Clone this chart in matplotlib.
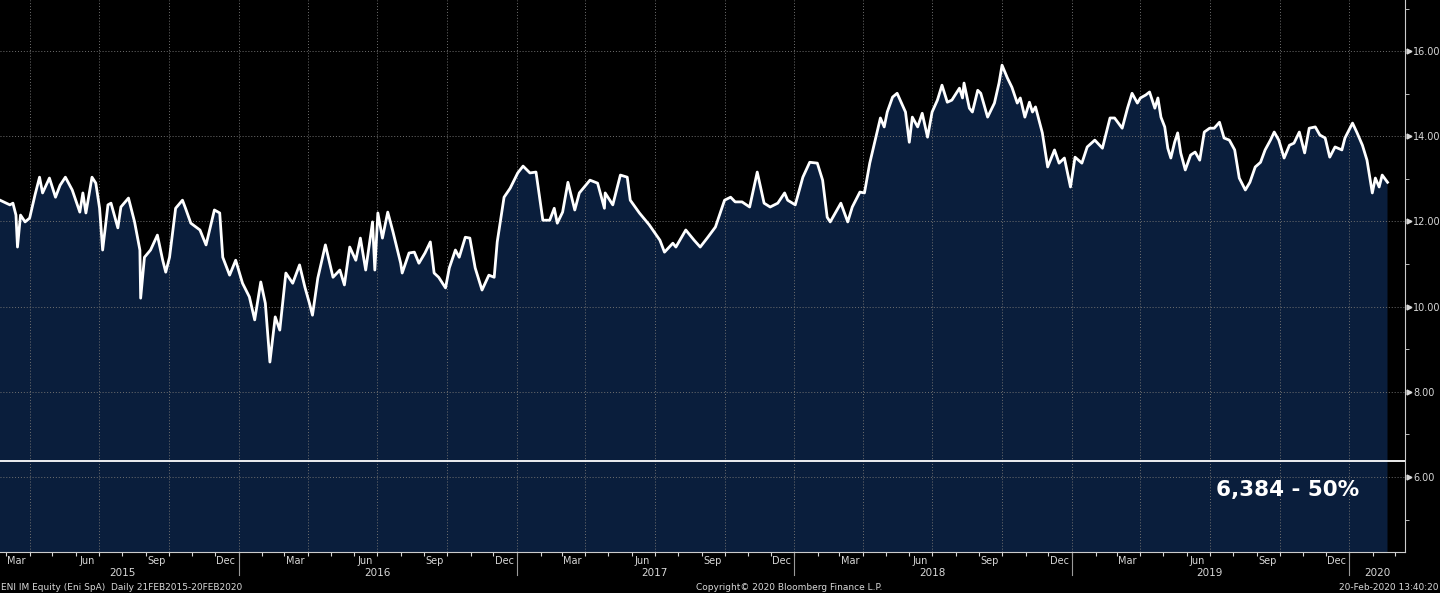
import numpy as np
import pandas as pd
import matplotlib
matplotlib.use("Agg")
import matplotlib.pyplot as plt
import matplotlib.dates as mdates
import matplotlib.transforms as mtrans

# ENI IM Equity, approximate daily close
DATES = [
    "2015-02-21", "2015-03-06", "2015-03-10", "2015-03-14", "2015-03-16", "2015-03-20", "2015-03-26",
    "2015-04-01", "2015-04-08", "2015-04-14", "2015-04-18", "2015-04-27", "2015-05-05", "2015-05-11",
    "2015-05-18", "2015-05-27", "2015-06-06", "2015-06-10", "2015-06-14", "2015-06-22", "2015-06-27",
    "2015-07-02", "2015-07-06", "2015-07-13", "2015-07-17", "2015-07-26", "2015-07-30", "2015-08-09",
    "2015-08-17", "2015-08-24", "2015-08-25", "2015-08-30", "2015-09-07", "2015-09-16", "2015-09-23",
    "2015-09-27", "2015-10-02", "2015-10-10", "2015-10-19", "2015-10-23", "2015-10-30", "2015-11-11",
    "2015-11-19", "2015-11-30", "2015-12-07", "2015-12-11", "2015-12-20", "2015-12-28",
    "2016-01-06", "2016-01-15", "2016-01-22", "2016-01-30", "2016-02-05", "2016-02-11", "2016-02-18",
    "2016-02-24", "2016-03-03", "2016-03-12", "2016-03-21", "2016-03-28", "2016-04-03", "2016-04-07",
    "2016-04-14", "2016-04-24", "2016-05-04", "2016-05-13", "2016-05-19", "2016-05-26", "2016-06-03",
    "2016-06-09", "2016-06-16", "2016-06-25", "2016-06-28", "2016-07-02", "2016-07-08", "2016-07-15",
    "2016-07-22", "2016-08-01", "2016-08-03", "2016-08-12", "2016-08-19", "2016-08-25", "2016-09-02",
    "2016-09-09", "2016-09-14", "2016-09-20", "2016-09-29", "2016-10-04", "2016-10-12", "2016-10-17",
    "2016-10-25", "2016-10-31", "2016-11-07", "2016-11-16", "2016-11-25", "2016-12-02", "2016-12-06",
    "2016-12-15", "2016-12-23",
    "2017-01-02", "2017-01-09", "2017-01-18", "2017-01-26", "2017-02-04", "2017-02-13", "2017-02-19",
    "2017-02-23", "2017-03-02", "2017-03-09", "2017-03-18", "2017-03-24", "2017-04-07", "2017-04-17",
    "2017-04-26", "2017-04-27", "2017-05-07", "2017-05-17", "2017-05-26", "2017-05-30", "2017-06-11",
    "2017-06-24", "2017-07-08", "2017-07-14", "2017-07-25", "2017-07-29", "2017-08-11", "2017-08-22",
    "2017-08-30", "2017-09-09", "2017-09-19", "2017-10-01", "2017-10-09", "2017-10-15", "2017-10-24",
    "2017-11-03", "2017-11-13", "2017-11-22", "2017-11-30", "2017-12-10", "2017-12-19", "2017-12-23",
    "2018-01-02", "2018-01-12", "2018-01-21", "2018-01-31", "2018-02-07", "2018-02-13", "2018-02-17",
    "2018-02-26", "2018-03-03", "2018-03-12", "2018-03-18", "2018-03-28", "2018-04-03", "2018-04-10",
    "2018-04-18", "2018-04-24", "2018-04-29", "2018-05-03", "2018-05-10", "2018-05-16", "2018-05-20",
    "2018-05-27", "2018-06-01", "2018-06-05", "2018-06-12", "2018-06-18", "2018-06-25", "2018-07-01",
    "2018-07-08", "2018-07-14", "2018-07-21", "2018-07-27", "2018-08-06", "2018-08-10", "2018-08-12",
    "2018-08-19", "2018-08-23", "2018-08-30", "2018-09-03", "2018-09-12", "2018-09-21", "2018-09-27",
    "2018-10-01", "2018-10-08", "2018-10-14", "2018-10-21", "2018-10-25", "2018-10-31", "2018-11-06",
    "2018-11-10", "2018-11-14", "2018-11-23", "2018-11-30", "2018-12-09", "2018-12-15", "2018-12-22",
    "2018-12-30",
    "2019-01-05", "2019-01-14", "2019-01-21", "2019-01-31", "2019-02-10", "2019-02-20", "2019-02-26",
    "2019-03-08", "2019-03-15", "2019-03-21", "2019-03-28", "2019-04-01", "2019-04-08", "2019-04-13",
    "2019-04-20", "2019-04-24", "2019-04-28", "2019-05-03", "2019-05-07", "2019-05-11", "2019-05-16",
    "2019-05-20", "2019-05-24", "2019-05-30", "2019-06-06", "2019-06-12", "2019-06-18", "2019-06-24",
    "2019-07-01", "2019-07-07", "2019-07-14", "2019-07-20", "2019-07-27", "2019-08-03", "2019-08-09",
    "2019-08-17", "2019-08-23", "2019-08-30", "2019-09-06", "2019-09-12", "2019-09-19", "2019-09-24",
    "2019-09-30", "2019-10-07", "2019-10-14", "2019-10-20", "2019-10-27", "2019-11-03", "2019-11-09",
    "2019-11-17", "2019-11-23", "2019-11-30", "2019-12-06", "2019-12-13", "2019-12-22", "2019-12-26",
    "2020-01-05", "2020-01-11", "2020-01-18", "2020-01-24", "2020-01-31", "2020-02-04", "2020-02-09",
    "2020-02-13", "2020-02-20",
]
PRICES = [
    12.50, 12.39, 12.43, 12.15, 11.40, 12.15, 11.99,
    12.08, 12.62, 13.04, 12.67, 13.02, 12.57, 12.85,
    13.04, 12.74, 12.22, 12.67, 12.20, 13.04, 12.90,
    12.31, 11.33, 12.39, 12.43, 11.85, 12.34, 12.55,
    11.99, 11.33, 10.20, 11.16, 11.33, 11.68, 11.09,
    10.81, 11.16, 12.31, 12.50, 12.31, 11.96, 11.80,
    11.45, 12.27, 12.20, 11.16, 10.74, 11.09,
    10.55, 10.23, 9.69, 10.58, 10.08, 8.70, 9.76,
    9.45, 10.79, 10.55, 10.98, 10.46, 10.08, 9.80,
    10.67, 11.45, 10.69, 10.86, 10.51, 11.40, 11.09,
    11.61, 10.86, 11.99, 10.86, 12.20, 11.61, 12.22,
    11.75, 11.02, 10.79, 11.26, 11.28, 11.02, 11.26,
    11.52, 10.79, 10.69, 10.44, 10.91, 11.33, 11.16,
    11.63, 11.61, 10.91, 10.39, 10.74, 10.69, 11.52,
    12.57, 12.78,
    13.14, 13.30, 13.14, 13.16, 12.03, 12.03, 12.31,
    11.96, 12.22, 12.92, 12.27, 12.67, 12.97, 12.90,
    12.31, 12.67, 12.39, 13.09, 13.04, 12.50, 12.20,
    11.92, 11.56, 11.28, 11.49, 11.40, 11.80, 11.56,
    11.40, 11.63, 11.87, 12.50, 12.57, 12.46, 12.46,
    12.34, 13.16, 12.43, 12.34, 12.43, 12.67, 12.50,
    12.39, 13.04, 13.39, 13.37, 12.97, 12.10, 11.99,
    12.27, 12.43, 11.99, 12.34, 12.69, 12.67, 13.37,
    13.98, 14.43, 14.22, 14.57, 14.92, 15.01, 14.85,
    14.57, 13.86, 14.45, 14.22, 14.54, 13.98, 14.57,
    14.85, 15.20, 14.80, 14.85, 15.13, 14.90, 15.25,
    14.66, 14.57, 15.08, 15.01, 14.45, 14.78, 15.25,
    15.67, 15.37, 15.15, 14.78, 14.90, 14.45, 14.80,
    14.57, 14.69, 14.08, 13.28, 13.68, 13.37, 13.49,
    12.81,
    13.51, 13.37, 13.75, 13.91, 13.72, 14.43, 14.43,
    14.19, 14.66, 15.01, 14.78, 14.90, 14.97, 15.04,
    14.66, 14.90, 14.45, 14.22, 13.72, 13.49, 13.86,
    14.08, 13.61, 13.21, 13.56, 13.63, 13.44, 14.10,
    14.19, 14.19, 14.33, 13.96, 13.91, 13.68, 13.02,
    12.74, 12.92, 13.28, 13.39, 13.68, 13.91, 14.10,
    13.91, 13.49, 13.79, 13.84, 14.10, 13.61, 14.19,
    14.22, 14.03, 13.96, 13.51, 13.75, 13.68, 13.96,
    14.31, 14.08, 13.79, 13.44, 12.67, 13.02, 12.81,
    13.09, 12.92,
]
LEVEL = 6.384
LEVEL_LABEL = "6,384 - 50%"
YTICKS = [6, 8, 10, 12, 14, 16]
YEARS = [2015, 2016, 2017, 2018, 2019, 2020]
YEAR_LABEL_POS = ["2015-08-01", "2016-07-01", "2017-07-01", "2018-07-01", "2019-07-01", "2020-02-07"]

FILL = "#0a1e3c"
GRID = "#707070"
TXT = "#d8d8d8"

dates = pd.to_datetime(DATES)
prices = np.array(PRICES)

fig = plt.figure(figsize=(14.4, 5.93), dpi=100, facecolor="black")
ax = fig.add_axes([0, 41 / 593, 1405 / 1440, 552 / 593], facecolor="black")

ax.fill_between(dates, prices, 0, color=FILL, lw=0, zorder=1)
ax.plot(dates, prices, color="white", lw=2.0, zorder=3, solid_joinstyle="round")
ax.axhline(LEVEL, color="white", lw=1.3, zorder=4)
ax.text(pd.Timestamp("2019-10-11"), 5.69, LEVEL_LABEL, color="white", fontsize=15.5,
        fontweight="bold", ha="center", va="center", zorder=5)

ax.set_xlim(pd.Timestamp("2015-02-21"), pd.Timestamp("2020-03-14"))
ax.set_ylim(4.24, 17.2)

# y axis on the right, Bloomberg style
ax.yaxis.tick_right()
ax.set_yticks(YTICKS)
ax.set_yticklabels([f"{v:.2f}" for v in YTICKS], color=TXT, fontsize=7)
ax.set_yticks(np.arange(5, 18, 2), minor=True)
ax.tick_params(axis="y", which="major", length=0, pad=6)
ax.tick_params(axis="y", which="minor", length=3, color=TXT, direction="out")
tri = mtrans.offset_copy(ax.get_yaxis_transform(), fig=fig, x=3.0, y=0, units="points")
ax.plot([1] * len(YTICKS), YTICKS, ls="none", marker=">", ms=3.5, color=TXT,
        transform=tri, clip_on=False)

# x axis: monthly ticks, quarter labels mid-month
ax.xaxis.set_major_locator(mdates.MonthLocator())
ax.xaxis.set_major_formatter(plt.NullFormatter())
ax.xaxis.set_minor_locator(mdates.MonthLocator(bymonth=[3, 6, 9, 12], bymonthday=15))
ax.xaxis.set_minor_formatter(mdates.DateFormatter("%b"))
ax.tick_params(axis="x", which="major", length=3, color=TXT, direction="out")
ax.tick_params(axis="x", which="minor", length=0, pad=3, labelsize=7, labelcolor=TXT)

xtrans = ax.get_xaxis_transform()
for yr, pos in zip(YEARS, YEAR_LABEL_POS):
    ax.text(pd.Timestamp(pos), -0.038, str(yr), transform=xtrans, ha="center", va="center",
            fontsize=7.5, color=TXT)
    if yr > 2015:
        ax.plot([pd.Timestamp(f"{yr}-01-01")] * 2, [0, -0.042], transform=xtrans,
                color="#9a9a9a", lw=0.8, clip_on=False)

# grid: quarterly verticals, major horizontals
for q in pd.date_range("2015-04-01", "2020-01-01", freq="QS"):
    ax.axvline(q, color=GRID, lw=0.7, ls=(0, (1, 2)), zorder=2)
for v in YTICKS:
    ax.axhline(v, color=GRID, lw=0.7, ls=(0, (1, 2)), zorder=2)

for s in ["top", "left"]:
    ax.spines[s].set_visible(False)
ax.spines["right"].set_color("#cccccc")
ax.spines["bottom"].set_color("#cccccc")

fig.text(0.001, 0.010, "ENI IM Equity (Eni SpA)  Daily 21FEB2015-20FEB2020", color=TXT,
         fontsize=6.5, ha="left", va="center")
fig.text(0.548, 0.010, "Copyright\u00a9 2020 Bloomberg Finance L.P.", color=TXT,
         fontsize=6.5, ha="center", va="center")
fig.text(0.999, 0.010, "20-Feb-2020 13:40:20", color=TXT, fontsize=6.5, ha="right", va="center")

fig.savefig("out.png", dpi=100, facecolor="black")
